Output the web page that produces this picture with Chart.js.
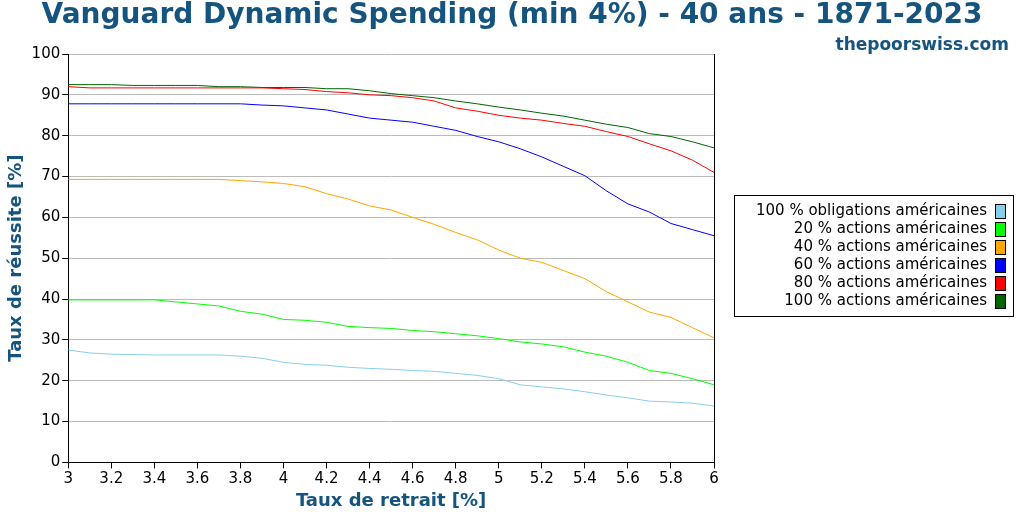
<!DOCTYPE html>
<html><head><meta charset="utf-8">
<script src="https://cdn.jsdelivr.net/npm/chart.js@4"></script>
<style>body{margin:0;background:#fff}#w{width:1024px;height:512px;position:relative}</style>
</head><body><div id="w"><canvas id="c"></canvas></div>
<script>
const rates=[3.0,3.1,3.2,3.3,3.4,3.5,3.6,3.7,3.8,3.9,4.0,4.1,4.2,4.3,4.4,4.5,4.6,4.7,4.8,4.9,5.0,5.1,5.2,5.3,5.4,5.5,5.6,5.7,5.8,5.9,6.0];
const bonds100=[27.5,26.8,26.5,26.4,26.3,26.3,26.3,26.3,26.0,25.5,24.5,24.0,23.8,23.3,23.0,22.8,22.5,22.3,21.8,21.3,20.5,19.0,18.5,18.0,17.3,16.5,15.8,15.0,14.8,14.5,13.8];
const stocks20=[39.8,39.8,39.8,39.8,39.8,39.3,38.8,38.3,37.0,36.3,35.0,34.8,34.3,33.3,33.0,32.8,32.3,32.0,31.5,31.0,30.3,29.5,29.0,28.3,27.0,26.0,24.5,22.5,21.8,20.5,19.0];
const stocks40=[69.3,69.3,69.3,69.3,69.3,69.3,69.3,69.3,69.0,68.7,68.3,67.5,65.8,64.5,62.8,61.8,60.0,58.3,56.3,54.5,52.0,50.0,49.0,47.0,45.0,41.8,39.3,36.8,35.5,33.0,30.5];
const stocks60=[87.8,87.8,87.8,87.8,87.8,87.8,87.8,87.8,87.8,87.5,87.3,86.8,86.3,85.3,84.3,83.8,83.3,82.3,81.3,79.8,78.5,76.8,74.8,72.5,70.2,66.5,63.3,61.3,58.5,57.0,55.5];
const stocks80=[92.0,91.7,91.7,91.7,91.7,91.7,91.7,91.7,91.7,91.7,91.5,91.3,90.8,90.5,90.0,89.8,89.3,88.5,86.8,86.0,85.0,84.3,83.8,83.0,82.3,81.0,79.8,78.0,76.3,74.0,71.0];
const stocks100=[92.5,92.5,92.5,92.3,92.3,92.3,92.3,92.0,92.0,91.8,91.8,91.8,91.5,91.5,91.0,90.3,89.8,89.3,88.5,87.8,87.0,86.3,85.5,84.8,83.8,82.8,82.0,80.5,79.8,78.5,77.0];
const labels=["100 % obligations américaines","20 % actions américaines","40 % actions américaines","60 % actions américaines","80 % actions américaines","100 % actions américaines"];
const colors=["#87ceeb","#00ff00","#ffa500","#0000ff","#ff0000","#006400"];
const series=[bonds100,stocks20,stocks40,stocks60,stocks80,stocks100];
const titleText="Vanguard Dynamic Spending (min 4%) - 40 ans - 1871-2023";
const subText="thepoorswiss.com";
const blue="#15547f";
Chart.defaults.font.family="'DejaVu Sans'";
Chart.defaults.color="#000";
const frame={id:'frame',afterDraw(ch){const c=ch.ctx,a=ch.chartArea;c.save();
c.strokeStyle='#000';c.lineWidth=1;
c.beginPath();c.moveTo(Math.round(a.right)+0.5,a.top);c.lineTo(Math.round(a.right)+0.5,a.bottom);c.stroke();
c.fillStyle=blue;c.textBaseline='middle';
c.font="bold 28px 'DejaVu Sans'";c.textAlign='center';c.fillText(titleText,512,16);
c.font="bold 17px 'DejaVu Sans'";c.textAlign='right';c.fillText(subText,1009,46);
// legend
const lx=734,ly=195,lw=279,lh=121;
c.strokeRect(lx+0.5,ly+0.5,lw,lh);
c.font="15px 'DejaVu Sans'";c.fillStyle='#000';
ch.data.datasets.forEach((d,i)=>{const y=ly+16+i*18;
c.fillStyle='#000';c.textAlign='right';c.fillText(d.label,987,y);
c.fillStyle=d.borderColor;c.fillRect(995,y-7,10,14);c.strokeRect(995.5,y-6.5,10,14);});
c.restore();}};
new Chart(document.getElementById('c'),{type:'line',
data:{datasets:series.map((s,i)=>({label:labels[i],data:s.map((v,j)=>({x:rates[j],y:v})),borderColor:colors[i],backgroundColor:colors[i],borderWidth:1,pointRadius:0,tension:0}))},
options:{responsive:true,maintainAspectRatio:false,animation:false,
layout:{padding:{left:4,right:310,top:54,bottom:0}},
plugins:{legend:{display:false},title:{display:false},tooltip:{enabled:false}},
scales:{x:{type:'linear',min:3,max:6,border:{color:'#000'},grid:{drawOnChartArea:false,tickLength:6,color:'#000'},
ticks:{stepSize:0.2,font:{size:15},color:'#000',padding:2,callback:v=>Math.round(v*10)/10},
title:{display:true,text:"Taux de retrait [%]",color:blue,font:{size:18,weight:'bold'},padding:0}},
y:{min:0,max:100,border:{color:'#000'},grid:{color:'#bbb',tickColor:'#000',tickLength:6,lineWidth:1,borderDash:[2,4]},
ticks:{stepSize:10,font:{size:15},color:'#000',padding:2},
title:{display:true,text:"Taux de réussite [%]",color:blue,font:{size:18,weight:'bold'},padding:2}}}},
plugins:[frame]});
</script></body></html>
